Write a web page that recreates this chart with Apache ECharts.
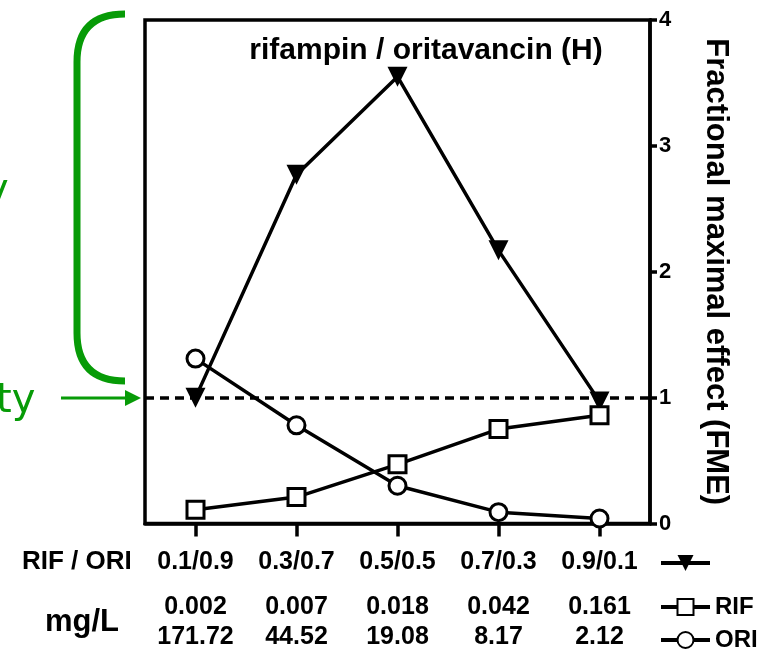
<!DOCTYPE html>
<html>
<head>
<meta charset="utf-8">
<script src="https://cdn.jsdelivr.net/npm/echarts@6/dist/echarts.min.js"></script>
<style>
  html, body { margin: 0; padding: 0; background: #fff; }
  #main { width: 771px; height: 650px; }
</style>
</head>
<body>
<div id="main"></div>
<script>
// RIF / ORI ratios
const ratios = ['0.1/0.9', '0.3/0.7', '0.5/0.5', '0.7/0.3', '0.9/0.1'];
// mg/L
const rifMgL = ['0.002', '0.007', '0.018', '0.042', '0.161'];
const oriMgL = ['171.72', '44.52', '19.08', '8.17', '2.12'];
// FME values
const comboFME = [1.0, 2.77, 3.55, 2.17, 0.97];
const rifFME = [0.11, 0.21, 0.47, 0.75, 0.86];
const oriFME = [1.31, 0.78, 0.30, 0.09, 0.04];
const yTicks = [0, 1, 2, 3, 4];

const FONT = 'Liberation Sans, Arial, sans-serif';
const GREEN = '#079b07';

const chart = echarts.init(document.getElementById('main'));

// legend keys drawn like the series: thick line, marker in the middle
const legendLine = { color: '#000', width: 4 };

const option = {
  animation: false,
  title: {
    text: 'rifampin / oritavancin (H)',
    left: 421, top: 31, textAlign: 'center',
    textStyle: { fontFamily: FONT, fontWeight: 'bold', fontSize: 30, color: '#000' }
  },
  grid: {
    left: 145, right: 121, top: 20, bottom: 125,
    show: true, borderColor: '#000', borderWidth: 3.5
  },
  legend: [
    {
      data: ['Combination'], left: 659, top: 553, padding: 0,
      itemWidth: 49, itemHeight: 20, formatter: () => '', selectedMode: false,
      lineStyle: legendLine
    },
    {
      data: ['RIF'], left: 659, top: 595, padding: 0, itemGap: 4,
      itemWidth: 49, itemHeight: 20, selectedMode: false, lineStyle: legendLine,
      textStyle: { fontFamily: FONT, fontWeight: 'bold', fontSize: 24, color: '#000' }
    },
    {
      data: ['ORI'], left: 659, top: 628, padding: 0,
      itemWidth: 49, itemHeight: 20, selectedMode: false, lineStyle: legendLine,
      textStyle: { fontFamily: FONT, fontWeight: 'bold', fontSize: 24, color: '#000' }
    }
  ],
  xAxis: {
    type: 'category',
    data: ratios,
    axisLine: { lineStyle: { color: '#000', width: 3.5 } },
    axisTick: { show: true, alignWithLabel: true, length: 13, lineStyle: { color: '#000', width: 3.5 } },
    axisLabel: {
      margin: 9,
      interval: 0,
      formatter: (v, i) => '{c|' + v + '}\n{r|' + rifMgL[i] + '}\n{r|' + oriMgL[i] + '}',
      rich: {
        c: { fontFamily: FONT, fontWeight: 'bold', fontSize: 25, color: '#000', lineHeight: 60 },
        r: { fontFamily: FONT, fontWeight: 'bold', fontSize: 25, color: '#000', lineHeight: 30 }
      }
    }
  },
  yAxis: {
    type: 'value',
    position: 'right',
    min: yTicks[0], max: yTicks[yTicks.length - 1], interval: 1,
    name: 'Fractional maximal effect (FME)',
    nameLocation: 'middle',
    nameRotate: -90,
    nameGap: 50,
    nameTextStyle: { fontFamily: FONT, fontWeight: 'bold', fontSize: 31, color: '#000' },
    axisLine: { show: true, lineStyle: { color: '#000', width: 3.5 } },
    axisTick: { show: true, length: 7, lineStyle: { color: '#000', width: 3.5 } },
    axisLabel: { margin: 9, fontFamily: FONT, fontWeight: 'bold', fontSize: 22, color: '#000' },
    splitLine: { show: false }
  },
  series: [
    {
      name: 'Combination',
      type: 'line',
      data: comboFME,
      symbol: 'triangle', symbolRotate: 180, symbolSize: [20, 20],
      itemStyle: { color: '#000' },
      lineStyle: { color: '#000', width: 3.5 },
      z: 3,
      markLine: {
        silent: true, symbol: 'none',
        label: { show: false },
        lineStyle: { color: '#000', width: 3.5, type: [9, 6] },
        data: [{ yAxis: 1 }]
      }
    },
    {
      name: 'RIF',
      type: 'line',
      data: rifFME,
      symbol: 'rect', symbolSize: 17,
      showAllSymbol: true,
      itemStyle: { color: '#fff', borderColor: '#000', borderWidth: 3 },
      lineStyle: { color: '#000', width: 3.5 }
    },
    {
      name: 'ORI',
      type: 'line',
      data: oriFME,
      symbol: 'circle', symbolSize: 17,
      itemStyle: { color: '#fff', borderColor: '#000', borderWidth: 3 },
      lineStyle: { color: '#000', width: 3.5 }
    }
  ],
  graphic: [
    // green bracket
    {
      type: 'bezierCurve',
      shape: { x1: 125, y1: 14, cpx1: 77, cpy1: 14, x2: 77, y2: 62 },
      style: { fill: 'none', stroke: GREEN, lineWidth: 7 }
    },
    {
      type: 'line',
      shape: { x1: 77, y1: 62, x2: 77, y2: 333 },
      style: { stroke: GREEN, lineWidth: 7 }
    },
    {
      type: 'bezierCurve',
      shape: { x1: 77, y1: 333, cpx1: 77, cpy1: 381, x2: 125, y2: 381 },
      style: { fill: 'none', stroke: GREEN, lineWidth: 7 }
    },
    // arrow to FME = 1
    {
      type: 'line',
      shape: { x1: 61, y1: 398, x2: 128, y2: 398 },
      style: { stroke: GREEN, lineWidth: 3 }
    },
    {
      type: 'polygon',
      shape: { points: [[125, 390], [141, 398], [125, 406]] },
      style: { fill: GREEN }
    },
    {
      type: 'text', left: -15, top: 172,
      style: { text: 'y', fill: GREEN, font: '40px "DejaVu Sans", sans-serif' }
    },
    {
      type: 'text', left: -4, top: 382,
      style: { text: 'ty', fill: GREEN, font: '40px "DejaVu Sans", sans-serif' }
    },
    {
      type: 'text', left: 22, top: 549,
      style: { text: 'RIF / ORI', fill: '#000', font: 'bold 26px ' + FONT }
    },
    {
      type: 'text', left: 45, top: 607,
      style: { text: 'mg/L', fill: '#000', font: 'bold 31px ' + FONT }
    }
  ]
};

chart.setOption(option);
</script>
</body>
</html>
